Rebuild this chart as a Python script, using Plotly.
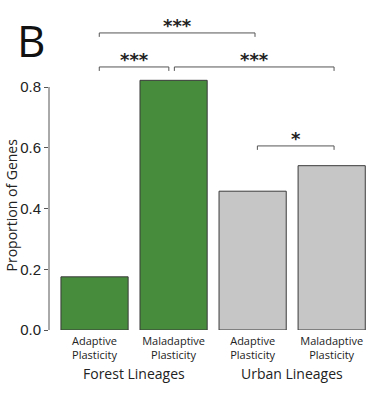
import plotly.graph_objects as go

# ---- data ----
categories = ["Adaptive<br>Plasticity", "Maladaptive<br>Plasticity",
              "Adaptive<br>Plasticity", "Maladaptive<br>Plasticity"]
proportions = [0.175, 0.822, 0.457, 0.541]
groups = ["Forest Lineages", "Urban Lineages"]
y_ticks = [0.0, 0.2, 0.4, 0.6, 0.8]
# comparisons: (bar a, bar b, bracket height, significance)
comparisons = [
    (0, 2, 0.978, "***"),
    (0, 1, 0.866, "***"),
    (1, 3, 0.866, "***"),
    (2, 3, 0.606, "*"),
]

green = "#468c3c"
grey = "#c6c6c6"
colors = [green, green, grey, grey]
xs = list(range(len(categories)))

fig = go.Figure()
fig.add_trace(go.Bar(
    x=xs, y=proportions,
    marker=dict(color=colors, line=dict(color="#3a3a3a", width=1)),
    width=0.85, showlegend=False, hoverinfo="skip",
))

shapes = []
annotations = []
tick = 0.013
for a, b, h, lab in comparisons:
    x0 = a + 0.06
    x1 = b - 0.06 if b == 1 else b + 0.03
    if a == 1:
        x0 = a + 0.01
    shapes.append(dict(type="path", xref="x", yref="y",
                       path=f"M {x0} {h - tick} L {x0} {h} L {x1} {h} L {x1} {h - tick}",
                       line=dict(color="#555555", width=1)))
    annotations.append(dict(x=(x0 + x1) / 2, y=h - 0.016, xref="x", yref="y",
                            text=f"<b>{lab}</b>", showarrow=False, yanchor="bottom",
                            xanchor="center",
                            font=dict(family="DejaVu Sans", size=18, color="#222222")))

# y axis spine only from 0 to 0.8
shapes.append(dict(type="line", xref="paper", yref="y", x0=0, x1=0, y0=0, y1=0.8,
                   line=dict(color="#555555", width=1)))

# group labels
for gi, g in enumerate(groups):
    annotations.append(dict(x=gi * 2 + 0.5, y=-0.139, xref="x", yref="paper",
                            text=g, showarrow=False, yanchor="middle", xanchor="center",
                            font=dict(family="Open Sans", size=14, color="#222222")))

# y-axis title
annotations.append(dict(x=-0.1176, y=0.41, xref="paper", yref="y",
                        text="Proportion of Genes", textangle=-90, showarrow=False,
                        xanchor="center", yanchor="middle", borderpad=0,
                        font=dict(family="Open Sans", size=14, color="#222222")))
# panel label
annotations.append(dict(x=-0.105, y=0.936, xref="paper", yref="paper",
                        text="B", showarrow=False, xanchor="left", yanchor="middle",
                        font=dict(family="Open Sans", size=44, color="#111111")))

fig.update_layout(
    width=382, height=400,
    margin=dict(l=49, r=10, t=20, b=70, autoexpand=False),
    plot_bgcolor="white", paper_bgcolor="white",
    bargap=0.15,
    shapes=shapes, annotations=annotations,
    xaxis=dict(range=[-0.576, 3.51], tickvals=xs, ticktext=categories,
               showline=False, showgrid=False, zeroline=False, ticks="",
               automargin=False,
               tickfont=dict(family="Open Sans", size=11, color="#222222"),
               ticklabelstandoff=3),
    yaxis=dict(range=[0, 1.0206], tickvals=y_ticks, tickformat=".1f",
               showline=False, showgrid=False, zeroline=False,
               ticks="outside", ticklen=4, tickcolor="#555555", automargin=False,
               tickfont=dict(family="Liberation Sans", size=15, color="#222222")),
)

# remove the default 8px page margin so the figure fills the window exactly
fig.write_html("out.html", config={"displayModeBar": False},
               post_script="document.body.style.margin='0px';")
